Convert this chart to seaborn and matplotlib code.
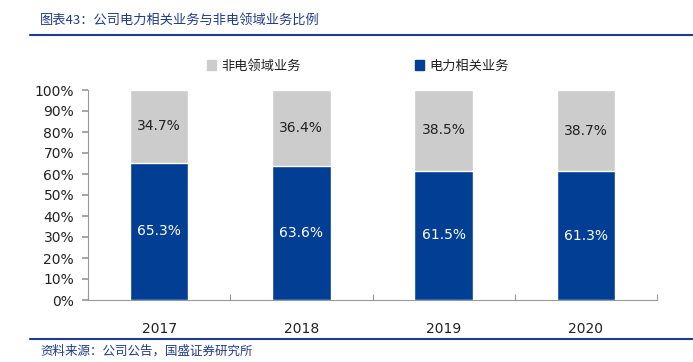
import matplotlib
matplotlib.use("Agg")
import matplotlib.pyplot as plt
import matplotlib.lines as mlines
import matplotlib.patches as mpatches
import pandas as pd
import seaborn as sns
from matplotlib.ticker import PercentFormatter, MultipleLocator

# -----------------------
# DATA
# -----------------------
years = ["2017", "2018", "2019", "2020"]
power_share = [65.3, 63.6, 61.5, 61.3]
non_power_share = [34.7, 36.4, 38.5, 38.7]
labels = ["非电领域业务", "电力相关业务"]

title_text = "图表43：公司电力相关业务与非电领域业务比例"
source_text = "资料来源：公司公告，国盛证券研究所"

GRAY = "#cccccc"
BLUE = "#023e94"
NAVY = "#1f3c88"

sns.set_theme(style="white")
plt.rcParams['font.family'] = ['Noto Sans CJK SC', 'DejaVu Sans']

df = pd.DataFrame({
    'year': years,
    'power': power_share,
    'non_power': non_power_share,
})
df['total'] = df['power'] + df['non_power']

fig = plt.figure(figsize=(6.93, 3.62), dpi=100)
ax = fig.add_axes([88 / 693, 62 / 362, 569 / 693, 210 / 362])

sns.barplot(data=df, x='year', y='total', color=GRAY, width=0.41,
            saturation=1, ax=ax, zorder=2)
sns.barplot(data=df, x='year', y='power', color=BLUE, width=0.41,
            saturation=1, ax=ax, zorder=3)

for i, row in df.iterrows():
    ax.text(i, row['power'] / 2, f"{row['power']:.1f}%", ha='center', va='center',
            color='white', fontsize=10, family='DejaVu Sans', zorder=4)
    ax.text(i, row['power'] + row['non_power'] / 2, f"{row['non_power']:.1f}%",
            ha='center', va='center', color='#222222', fontsize=10,
            family='DejaVu Sans', zorder=4)

ax.set_xlim(-0.5, 3.5)
ax.set_ylim(0, 100)
ax.yaxis.set_major_locator(MultipleLocator(10))
ax.yaxis.set_major_formatter(PercentFormatter(decimals=0))
ax.set_xlabel("")
ax.set_ylabel("")
for s in ['top', 'right']:
    ax.spines[s].set_visible(False)
for s in ['left', 'bottom']:
    ax.spines[s].set_color('#999999')
    ax.spines[s].set_linewidth(0.8)
ax.tick_params(axis='y', left=True, length=4, color='#999999', labelsize=10,
               labelcolor='#222222', pad=6)
ax.tick_params(axis='x', bottom=False, labelsize=10, labelcolor='#222222', pad=10)
for lab in ax.get_yticklabels() + ax.get_xticklabels():
    lab.set_family('DejaVu Sans')
# category boundary ticks on the x axis
ax.set_xticks([-0.5, 0.5, 1.5, 2.5, 3.5], minor=True)
ax.tick_params(axis='x', which='minor', bottom=True, direction='in', length=4,
               color='#999999', width=0.8)

handles = [mpatches.Patch(color=GRAY), mpatches.Patch(color=BLUE)]
fig.legend(handles, labels, loc='center', bbox_to_anchor=(358 / 693, 1 - 66 / 362),
           ncol=2, frameon=False, fontsize=9.5, handlelength=0.7,
           handleheight=0.7, handletextpad=0.4, columnspacing=8.6,
           labelcolor='#222222')

fig.text(40 / 693, 1 - 20 / 362, title_text, color=NAVY, fontsize=9.5,
         va='center', ha='left', style='italic')
fig.text(40 / 693, 1 - 351 / 362, source_text, color=NAVY, fontsize=9,
         va='center', ha='left', style='italic')
fig.add_artist(mlines.Line2D([30 / 693, 1], [1 - 35 / 362] * 2, color=NAVY,
                             linewidth=1.5))
fig.add_artist(mlines.Line2D([30 / 693, 1], [1 - 339 / 362] * 2, color=NAVY,
                             linewidth=1.5))

fig.savefig("out.png", dpi=100)
